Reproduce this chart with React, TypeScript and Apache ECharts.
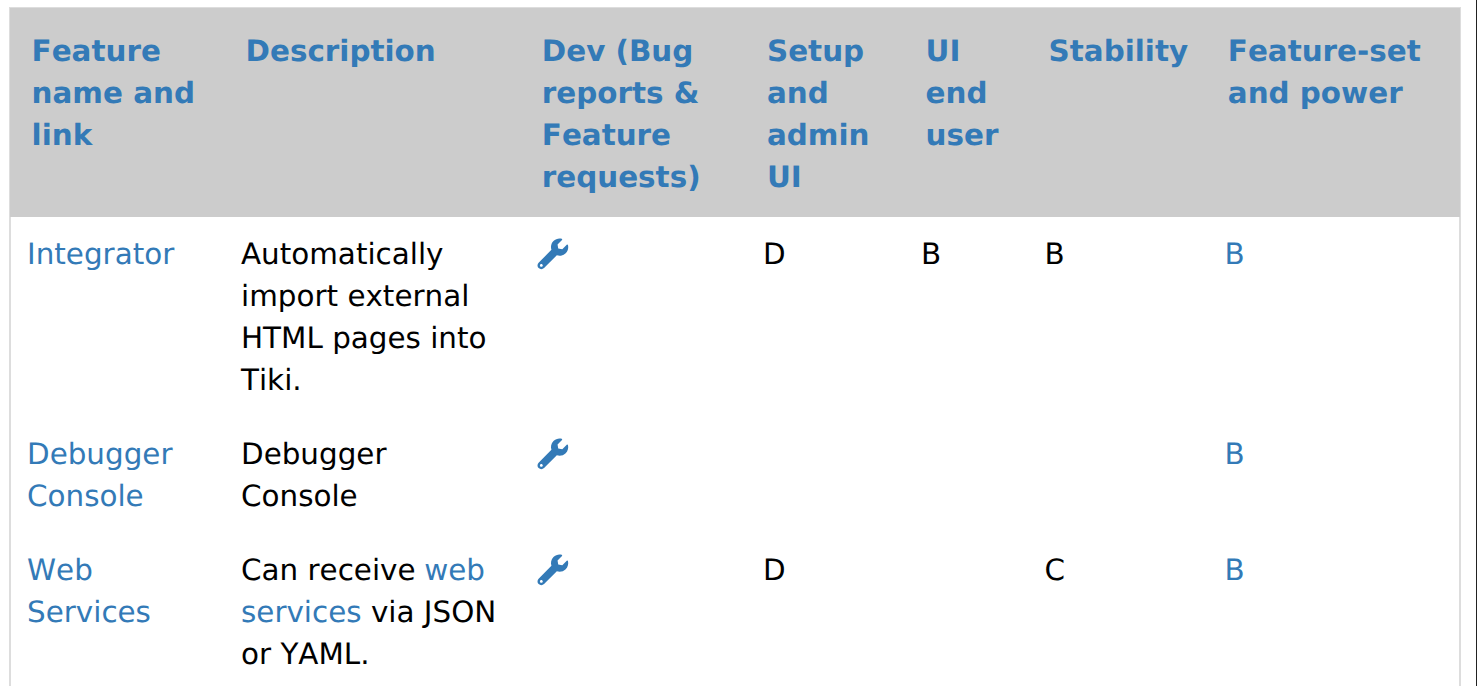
import React, { useEffect, useRef } from "react";
import * as echarts from "echarts";

const WIDTH = 1477;
const HEIGHT = 686;

const LINK = "#337ab7";
const INK = "#000000";
const FONT = "'DejaVu Sans', sans-serif";
const FONT_SIZE = 29.4;

const headers: string[][] = [
  ["Feature", "name and", "link"],
  ["Description"],
  ["Dev (Bug", "reports &", "Feature", "requests)"],
  ["Setup", "and", "admin", "UI"],
  ["UI", "end", "user"],
  ["Stability"],
  ["Feature-set", "and power"],
];

const featureNames: string[][] = [
  ["Integrator"],
  ["Debugger", "Console"],
  ["Web", "Services"],
];

// {l|...} marks the part of a line that is a link
const descriptions: string[][] = [
  ["Automatically", "import external", "HTML pages into", "Tiki."],
  ["Debugger", "Console"],
  ["Can receive {l|web}", "{l|services} via JSON", "or YAML."],
];

const setupGrades = ["D", "", "D"];
const uiGrades = ["B", "", ""];
const stabilityGrades = ["B", "", "C"];
const powerGrades = ["B", "B", "B"];

const WRENCH =
  "M507.73 109.1c-2.24-9.03-13.54-12.09-20.12-5.51l-74.36 74.36-67.88-11.31-11.31-67.88 74.36-74.36c6.62-6.62 3.43-17.9-5.66-20.16-47.38-11.74-99.55.91-136.58 37.93-39.64 39.64-50.55 97.1-34.05 147.2L18.74 402.76c-24.99 24.99-24.99 65.51 0 90.5 24.99 24.99 65.51 24.99 90.5 0l213.21-213.21c50.12 16.71 107.47 5.68 147.37-34.22 37.07-37.07 49.7-89.32 37.91-136.73zM64 472c-13.25 0-24-10.75-24-24 0-13.26 10.75-24 24-24s24 10.74 24 24c0 13.25-10.75 24-24 24z";

echarts.graphic.registerShape("wrench", echarts.graphic.extendPath(WRENCH, {}) as any);

const headX = [31.6, 245.6, 541.8, 767, 925.6, 1048.6, 1227.8];
const cellX = [27, 241, 537, 763, 921, 1044.6, 1224.4];
const rowY = [254.4, 454.4, 570.4];
const headY = 51.4;
const lineH = 42;

function txt(x: number, y: number, text: string, fill: string, weight: string): any {
  return {
    type: "text",
    x,
    y,
    silent: true,
    style: {
      text,
      x: 0,
      y: 0,
      fill,
      font: `${weight} ${FONT_SIZE}px ${FONT}`,
      fontFamily: FONT,
      fontSize: FONT_SIZE,
      fontWeight: weight,
      verticalAlign: "middle",
      align: "left",
      rich: {
        l: { fill: LINK, fontFamily: FONT, fontSize: FONT_SIZE },
      },
    },
  };
}

function buildElements(): any[] {
  const els: any[] = [];
  els.push({ type: "rect", shape: { x: 9, y: 7, width: 1452, height: 679 }, style: { fill: "#dddddd" } });
  els.push({ type: "rect", shape: { x: 11, y: 217, width: 1448, height: 469 }, style: { fill: "#ffffff" } });
  els.push({ type: "rect", shape: { x: 10, y: 8, width: 1450, height: 209 }, style: { fill: "#cccccc" } });
  els.push({ type: "rect", shape: { x: 1476, y: 0, width: 1, height: HEIGHT }, style: { fill: "#222222" } });

  headers.forEach((lines, c) =>
    lines.forEach((line, i) => els.push(txt(headX[c], headY + i * lineH, line, LINK, "bold")))
  );
  rowY.forEach((y, r) => {
    featureNames[r].forEach((line, i) => els.push(txt(cellX[0], y + i * lineH, line, LINK, "normal")));
    descriptions[r].forEach((line, i) => els.push(txt(cellX[1], y + i * lineH, line, INK, "normal")));
    els.push({
      type: "wrench",
      x: 537.5,
      y: y - 15.9,
      scaleX: 0.0596,
      scaleY: 0.0596,
      style: { fill: LINK },
    });
    if (setupGrades[r]) els.push(txt(cellX[3], y, setupGrades[r], INK, "normal"));
    if (uiGrades[r]) els.push(txt(cellX[4], y, uiGrades[r], INK, "normal"));
    if (stabilityGrades[r]) els.push(txt(cellX[5], y, stabilityGrades[r], INK, "normal"));
    if (powerGrades[r]) els.push(txt(cellX[6], y, powerGrades[r], LINK, "normal"));
  });
  return els;
}

export default function App() {
  const ref = useRef<HTMLDivElement>(null);
  useEffect(() => {
    document.body.style.margin = "0";
    const chart = echarts.init(ref.current!, null, { renderer: "svg", width: WIDTH, height: HEIGHT });
    chart.setOption({
      animation: false,
      backgroundColor: "#ffffff",
      graphic: { elements: buildElements() },
    });
    return () => chart.dispose();
  }, []);
  return (
    <>
      <style>{"svg text, svg tspan { font-kerning: none !important; }"}</style>
      <div
        ref={ref}
        style={{
          width: WIDTH,
          height: HEIGHT,
          overflow: "hidden",
          textRendering: "geometricPrecision",
        }}
      />
    </>
  );
}
